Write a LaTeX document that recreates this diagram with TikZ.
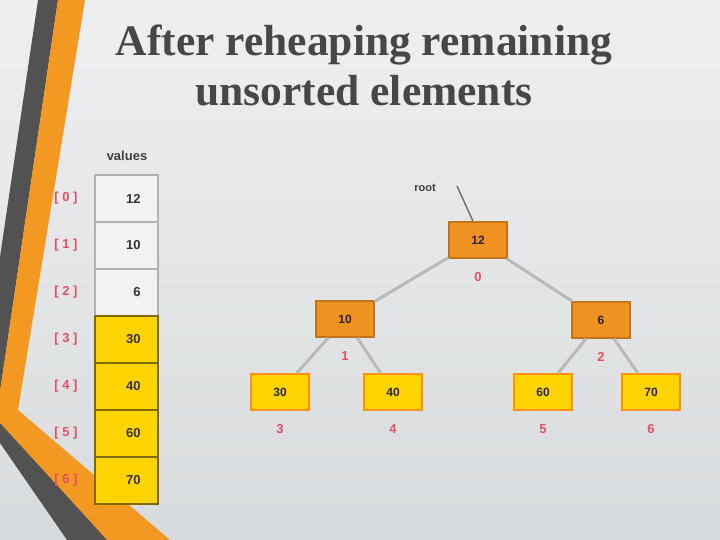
\documentclass[tikz,border=0pt]{standalone}
\usepackage{fontspec}
\setmainfont{Liberation Serif}
\newfontfamily\slidesans{Liberation Sans}
\usetikzlibrary{positioning}
\definecolor{bgtop}{RGB}{238,239,240}
\definecolor{bgbot}{RGB}{216,219,221}
\definecolor{stripeorange}{RGB}{243,152,32}
\definecolor{stripedark}{RGB}{82,82,82}
\definecolor{nodeorange}{RGB}{240,146,34}
\definecolor{nodegold}{RGB}{255,212,0}
\definecolor{idxred}{RGB}{225,80,100}

\begin{document}
\begin{tikzpicture}[x=1pt,y=-1pt,
  cellgray/.style={draw=gray!60, fill=gray!10, line width=1.5pt, minimum width=63pt, minimum height=47pt,
    text width=28pt, align=right, font=\slidesans\bfseries\fontsize{13}{15}\selectfont, text=black!80},
  cellgold/.style={cellgray, draw=black!50!nodegold, fill=nodegold},
  heapnode/.style={draw=nodeorange!80!black, fill=nodeorange, line width=1.5pt, minimum width=58pt,
    minimum height=36pt, font=\slidesans\bfseries\fontsize{12}{14}\selectfont, text=black!85},
  leafnode/.style={heapnode, draw=orange!80!nodegold, fill=nodegold},
  idx/.style={text=idxred, font=\slidesans\bfseries\fontsize{13}{15}\selectfont},
  edge/.style={line width=3pt, gray!55},
  title/.style={align=center, font=\bfseries\fontsize{43.5}{50}\selectfont, text=black!72}]
\useasboundingbox (0,0) rectangle (720,540);
\shade[top color=bgtop, bottom color=bgbot] (0,0) rectangle (720,540);
% slide stripes
\fill[stripedark] (38,0) -- (58,0) -- (0,392) -- (0,257) -- cycle;
\fill[stripeorange] (58,0) -- (85,0) -- (18,410) -- (170,540) -- (107,540) -- (0,423) -- (0,392) -- cycle;
\fill[stripedark] (0,423) -- (107,540) -- (67,540) -- (0,443) -- cycle;

\node[title] (ttl) at (364,65) {After reheaping remaining\\unsorted elements};

% array
\node[font=\slidesans\bfseries\fontsize{13}{15}\selectfont, text=black!75] (hdr) at (127,156) {values};
\foreach \v/\s [count=\i from 0] in {12/cellgray,10/cellgray,6/cellgray,30/cellgold,40/cellgold,60/cellgold,70/cellgold}{
  \node[\s] (v\i) at (126.5,198.5+47*\i) {\v};
  \node[idx] (k\i) at (66,198.5+47*\i) {[ \i{} ]};
}

% tree
\node[heapnode] (n0) at (478,240) {12};
\node[heapnode] (n1) at (345,319) {10};
\node[heapnode] (n2) at (601,320) {6};
\node[leafnode] (n3) at (280,392) {30};
\node[leafnode] (n4) at (393,392) {40};
\node[leafnode] (n5) at (543,392) {60};
\node[leafnode] (n6) at (651,392) {70};
\foreach \i in {0,...,6}
  \node[idx, below=10pt of n\i] (p\i) {\i};
\draw[edge] (n0) -- (n1);
\draw[edge] (n0) -- (n2);
\draw[edge] (n1) -- (n3);
\draw[edge] (n1) -- (n4);
\draw[edge] (n2) -- (n5);
\draw[edge] (n2) -- (n6);

\node[font=\slidesans\bfseries\fontsize{11}{13}\selectfont, text=black!75] (rootlbl) at (425,188) {root};
\coordinate (rtip) at (457,186);
\draw[line width=1.5pt, black!55] (rtip) -- ([xshift=-5pt]n0.north);
\end{tikzpicture}
\end{document}
